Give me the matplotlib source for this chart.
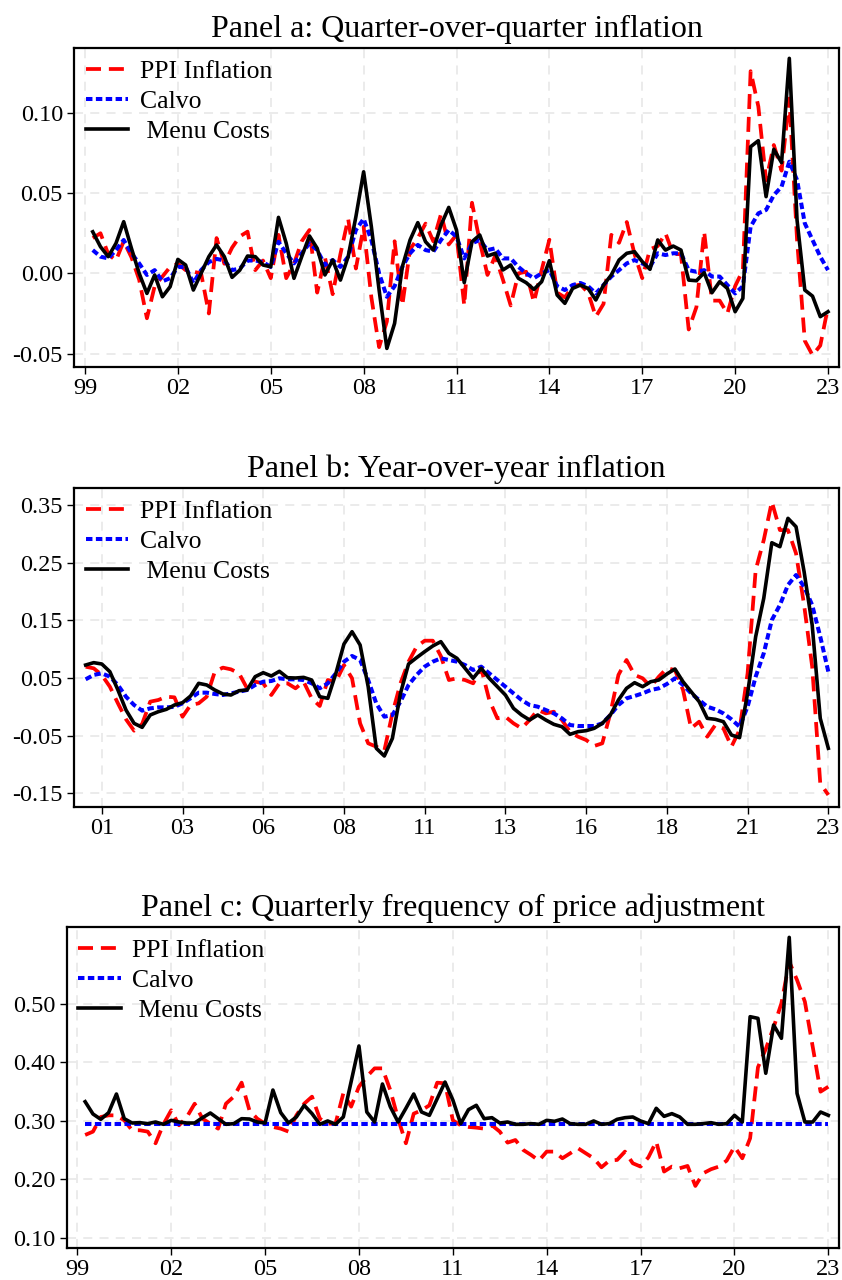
import numpy as np
import matplotlib.pyplot as plt

plt.rcParams['font.family'] = ['Liberation Serif', 'DejaVu Serif']

# quarterly dates: 1999Q2 .. 2023Q1 (panels a, c), 2000Q1 .. 2023Q1 (panel b)
t_q = 1999.25 + 0.25 * np.arange(96)
t_y = 2000.0 + 0.25 * np.arange(93)

# Panel a: quarter-over-quarter inflation
ppi_qoq = [0.022, 0.025, 0.012, 0.008, 0.020, 0.010, -0.004, -0.028, -0.008, -0.002,
           0.004, 0.006, 0.002, 0.001, 0.000, -0.025, 0.022, 0.006, 0.016, 0.023,
           0.026, 0.002, 0.008, -0.003, 0.024, -0.003, 0.006, 0.020, 0.027, -0.012,
           0.010, -0.013, 0.012, 0.034, 0.003, 0.029, -0.015, -0.046, -0.030, 0.020,
           -0.020, 0.015, 0.022, 0.031, 0.020, 0.037, 0.018, 0.024, -0.020, 0.044,
           0.020, -0.001, 0.011, -0.004, -0.020, 0.000, 0.001, -0.018, 0.002, 0.021,
           -0.012, -0.015, -0.008, -0.007, -0.012, -0.027, -0.019, 0.024, 0.019, 0.032,
           0.012, -0.003, 0.015, 0.017, 0.025, 0.012, 0.012, -0.035, -0.021, 0.026,
           -0.017, -0.017, -0.025, -0.008, 0.002, 0.126, 0.104, 0.058, 0.080, 0.064,
           0.109, 0.021, -0.042, -0.051, -0.045, -0.021]
calvo_qoq = [0.0145, 0.0104, 0.0093, 0.0145, 0.0208, 0.0125, 0.0062, -0.001, 0.002, -0.005,
             -0.003, 0.004, 0.004, -0.006, 0.002, 0.007, 0.009, 0.008, 0.002, 0.003,
             0.008, 0.008, 0.007, 0.004, 0.0197, 0.0125, 0.0062, 0.0125, 0.0187, 0.0145,
             0.0052, 0.0083, 0.004, 0.0104, 0.027, 0.034, 0.0208, 0.000, -0.0146, -0.008,
             0.004, 0.0125, 0.0177, 0.0145, 0.0135, 0.0208, 0.027, 0.0229, 0.0093, 0.0187,
             0.0208, 0.0145, 0.0156, 0.0093, 0.0093, 0.004, 0.000, -0.003, 0.000, 0.002,
             -0.008, -0.0104, -0.0073, -0.006, -0.008, -0.0125, -0.0073, -0.002, 0.002, 0.0062,
             0.0083, 0.0062, 0.004, 0.0125, 0.0114, 0.0125, 0.0125, 0.002, 0.001, 0.002,
             -0.002, -0.002, -0.0073, -0.0125, -0.008, 0.0291, 0.0374, 0.0395, 0.0488, 0.054,
             0.0696, 0.0582, 0.0312, 0.0208, 0.0104, 0.002]
menu_qoq = [0.0259, 0.0166, 0.0104, 0.0187, 0.0322, 0.0156, 0.000, -0.0125, -0.001, -0.0146,
            -0.0083, 0.0087, 0.0052, -0.0104, 0.000, 0.0104, 0.0177, 0.0104, -0.0025, 0.002,
            0.0108, 0.0104, 0.0052, 0.0041, 0.0349, 0.0187, -0.0031, 0.0104, 0.0233, 0.0156,
            -0.001, 0.0083, -0.0042, 0.0104, 0.0353, 0.0633, 0.029, -0.0104, -0.0468, -0.0312,
            0.0041, 0.0208, 0.0316, 0.0197, 0.0145, 0.0301, 0.0411, 0.027, -0.0058, 0.0197,
            0.0239, 0.0108, 0.0125, 0.0021, 0.0052, -0.0031, -0.0058, -0.010, -0.0052, 0.0079,
            -0.0135, -0.0187, -0.0094, -0.0073, -0.0094, -0.0166, -0.0073, -0.001, 0.0083, 0.0125,
            0.0135, 0.0073, 0.0025, 0.0208, 0.0145, 0.017, 0.0145, -0.0042, -0.0046, 0.0004,
            -0.0121, -0.0052, -0.0094, -0.0239, -0.0156, 0.0789, 0.0827, 0.0478, 0.0773, 0.069,
            0.134, 0.0332, -0.0104, -0.0142, -0.027, -0.0239]

# Panel b: year-over-year inflation
ppi_yoy = [0.0696, 0.0668, 0.0553, 0.035, 0.0061, -0.0216, -0.0413, -0.0297, 0.009, 0.0119,
           0.0176, 0.0165, -0.0171, 0.0032, 0.0061, 0.0176, 0.061, 0.068, 0.065, 0.0581,
           0.0321, 0.0436, 0.0408, 0.0205, 0.0408, 0.0408, 0.0321, 0.0436, 0.0148, 0.0015,
           0.0465, 0.0436, 0.0725, 0.0495, -0.0286, -0.0632, -0.069, -0.0759, -0.0113, 0.0408,
           0.0783, 0.1043, 0.1147, 0.1147, 0.088, 0.0465, 0.0495, 0.0465, 0.0408, 0.0668,
           0.0119, -0.0199, -0.0171, -0.0286, -0.0372, -0.0228, -0.0055, -0.0113, -0.0084, -0.0228,
           -0.043, -0.0517, -0.0575, -0.0678, -0.0632, -0.0113, 0.0553, 0.0812, 0.0553, 0.0495,
           0.035, 0.0523, 0.0668, 0.0639, 0.0292, -0.0372, -0.0257, -0.0517, -0.0315, -0.0372,
           -0.069, -0.0401, 0.0581, 0.2371, 0.2891, 0.3555, 0.3064, 0.3064, 0.266, 0.1765,
           0.0697, -0.1325, -0.1527]
calvo_yoy = [0.0477, 0.0553, 0.0581, 0.0523, 0.0379, 0.0176, 0.0032, -0.0066, -0.0026, -0.0009,
             -0.0009, 0.000, 0.0061, 0.0148, 0.0246, 0.0246, 0.0223, 0.0205, 0.0234, 0.0263,
             0.0292, 0.0379, 0.0436, 0.0448, 0.0495, 0.0477, 0.0477, 0.0465, 0.0408, 0.0321,
             0.0408, 0.0581, 0.0783, 0.0882, 0.0812, 0.0465, 0.0061, -0.0171, -0.0141, 0.009,
             0.0379, 0.0553, 0.0697, 0.0783, 0.0841, 0.0812, 0.0783, 0.0725, 0.0639, 0.0697,
             0.0581, 0.0465, 0.035, 0.0234, 0.0119, 0.0032, 0.0003, -0.0055, -0.0113, -0.0199,
             -0.0315, -0.0332, -0.0332, -0.0332, -0.0286, -0.0141, 0.0032, 0.0148, 0.0188, 0.0234,
             0.0292, 0.0321, 0.0396, 0.0495, 0.0379, 0.0234, 0.0119, 0.0003, -0.0043, -0.0113,
             -0.0216, -0.0344, 0.0003, 0.0523, 0.0928, 0.1505, 0.1765, 0.2112, 0.2285, 0.2083,
             0.1765, 0.1217, 0.061]
menu_yoy = [0.0725, 0.0766, 0.0743, 0.061, 0.0292, -0.0055, -0.0286, -0.0355, -0.0141, -0.0084,
            -0.0043, 0.0032, 0.0072, 0.0188, 0.0408, 0.0379, 0.0292, 0.0223, 0.0205, 0.028,
            0.0292, 0.0523, 0.0592, 0.0535, 0.0616, 0.0505, 0.050, 0.0511, 0.0465, 0.0176,
            0.0148, 0.0581, 0.1089, 0.1303, 0.1072, 0.035, -0.0718, -0.0852, -0.0546, 0.0234,
            0.0743, 0.0853, 0.0957, 0.1055, 0.113, 0.0928, 0.0841, 0.0668, 0.0495, 0.0668,
            0.0495, 0.035, 0.0205, -0.0026, -0.0141, -0.0228, -0.0141, -0.0228, -0.0303, -0.0344,
            -0.0476, -0.043, -0.0413, -0.0372, -0.0286, -0.0141, 0.0119, 0.0321, 0.0419, 0.035,
            0.0436, 0.0465, 0.0569, 0.0656, 0.0436, 0.0263, 0.009, -0.0199, -0.0216, -0.0257,
            -0.0488, -0.0534, 0.0234, 0.1217, 0.1881, 0.2845, 0.2776, 0.3268, 0.3122, 0.2342,
            0.1418, -0.0199, -0.0718]

# Panel c: quarterly frequency of price adjustment
ppi_freq = [0.2756, 0.2813, 0.3063, 0.3091, 0.3091, 0.3006, 0.2836, 0.2836, 0.2813, 0.2614,
            0.2938, 0.3177, 0.2921, 0.3063, 0.329, 0.3034, 0.2949, 0.2864, 0.329, 0.341,
            0.3649, 0.3177, 0.3034, 0.2949, 0.2893, 0.2864, 0.2813, 0.3091, 0.329, 0.341,
            0.3034, 0.2949, 0.2949, 0.3466, 0.324, 0.358, 0.3751, 0.3893, 0.3893, 0.3523,
            0.3034, 0.2614, 0.312, 0.3177, 0.3262, 0.3649, 0.3637, 0.3006, 0.2921, 0.2893,
            0.2881, 0.2864, 0.2921, 0.2813, 0.2625, 0.267, 0.250, 0.2415, 0.2318, 0.2472,
            0.2472, 0.2358, 0.2443, 0.2529, 0.2443, 0.2358, 0.2204, 0.2318, 0.233, 0.2472,
            0.2273, 0.2216, 0.2375, 0.2643, 0.2131, 0.2216, 0.2188, 0.2227, 0.1886, 0.2102,
            0.2171, 0.2216, 0.2318, 0.2557, 0.2358, 0.270, 0.3911, 0.4224, 0.4593, 0.5003,
            0.5713, 0.540, 0.503, 0.4263, 0.3495, 0.358]
calvo_freq = [0.2935] * 96
menu_freq = [0.3324, 0.3114, 0.3023, 0.3137, 0.3455, 0.3034, 0.296, 0.2966, 0.2949, 0.2977,
             0.2938, 0.3006, 0.2977, 0.296, 0.296, 0.3051, 0.3131, 0.3034, 0.2938, 0.2949,
             0.3034, 0.3028, 0.2977, 0.296, 0.3523, 0.3137, 0.296, 0.3063, 0.3262, 0.312,
             0.2938, 0.2995, 0.2938, 0.3063, 0.3666, 0.4275, 0.3148, 0.2977, 0.3626, 0.324,
             0.2977, 0.3211, 0.3455, 0.3148, 0.3091, 0.3375, 0.3659, 0.3353, 0.2949, 0.3188,
             0.3262, 0.3034, 0.3051, 0.296, 0.2977, 0.2938, 0.2938, 0.2949, 0.2938, 0.3006,
             0.2989, 0.3028, 0.2949, 0.2938, 0.2938, 0.2995, 0.2938, 0.2949, 0.3023, 0.3051,
             0.3063, 0.2995, 0.2949, 0.3211, 0.3074, 0.312, 0.3063, 0.2938, 0.2938, 0.2949,
             0.2966, 0.2938, 0.2949, 0.3091, 0.2977, 0.4775, 0.4747, 0.3809, 0.4633, 0.4406,
             0.6129, 0.3466, 0.2977, 0.2977, 0.3148, 0.3091]

ticks_q = [1999, 2002, 2005, 2008, 2011, 2014, 2017, 2020, 2023]
labels_q = ['99', '02', '05', '08', '11', '14', '17', '20', '23']
ticks_y = [2000.5, 2003, 2005.5, 2008, 2010.5, 2013, 2015.5, 2018, 2020.5, 2023]
labels_y = ['01', '03', '06', '08', '11', '13', '16', '18', '21', '23']

yt_a = [-0.05, 0.0, 0.05, 0.10]
yt_b = [-0.15, -0.05, 0.05, 0.15, 0.25, 0.35]
yt_c = [0.10, 0.20, 0.30, 0.40, 0.50]


def draw_panel(ax, t, ppi, calvo, menu, title, xticks, xlabels, yticks, xlim, ylim):
    ax.plot(t, ppi, color='red', lw=2.7, ls=(0, (4, 2.1)), label='PPI Inflation', zorder=3)
    ax.plot(t, calvo, color='blue', lw=2.9, ls=(0, (1.6, 0.85)), label='Calvo', zorder=4)
    ax.plot(t, menu, color='black', lw=2.6, label=' Menu Costs', zorder=5)
    ax.set_xlim(*xlim)
    ax.set_ylim(*ylim)
    ax.set_xticks(xticks)
    ax.set_xticklabels(xlabels)
    ax.set_yticks(yticks)
    ax.set_yticklabels(['%.2f' % v for v in yticks])
    ax.grid(True, color='#e9e9e9', lw=1.3, ls=(0, (5, 4)))
    ax.set_axisbelow(True)
    for s in ax.spines.values():
        s.set_linewidth(1.6)
    ax.tick_params(direction='out', length=5, width=1, labelsize=17.5, pad=3)
    ax.set_title(title, fontsize=23, pad=8)
    ax.legend(loc='upper left', frameon=False, fontsize=18.5, handlelength=1.65,
              handletextpad=0.45, labelspacing=0.28, borderaxespad=0.25,
              borderpad=0.2)


fig = plt.figure(figsize=(8.42, 12.8), dpi=100)

ax_a = fig.add_axes([0.0879, 0.7135, 0.9089, 0.2488])
draw_panel(ax_a, t_q, ppi_qoq, calvo_qoq, menu_qoq,
           'Panel a: Quarter-over-quarter inflation',
           ticks_q, labels_q, yt_a, (1998.645, 2023.365), (-0.0582, 0.1403))

ax_b = fig.add_axes([0.0879, 0.3698, 0.9089, 0.2487])
draw_panel(ax_b, t_y, ppi_yoy, calvo_yoy, menu_yoy,
           'Panel b: Year-over-year inflation',
           ticks_y, labels_y, yt_b, (1999.64, 2023.34), (-0.173, 0.3788))

ax_c = fig.add_axes([0.0792, 0.0248, 0.9176, 0.2507])
draw_panel(ax_c, t_q, ppi_freq, calvo_freq, menu_freq,
           'Panel c: Quarterly frequency of price adjustment',
           ticks_q, labels_q, yt_c, (1998.66, 2023.35), (0.0822, 0.630))

fig.savefig('out.png', dpi=100)
